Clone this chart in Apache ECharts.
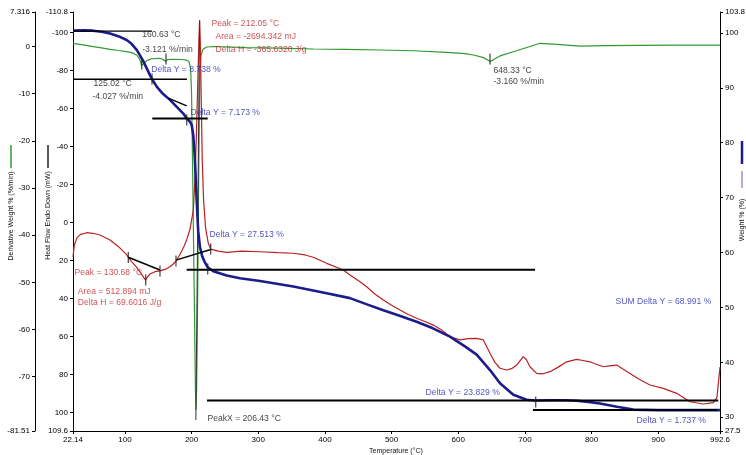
<!DOCTYPE html>
<html><head><meta charset="utf-8">
<script src="https://cdn.jsdelivr.net/npm/echarts@6/dist/echarts.min.js"></script>
<style>html,body{margin:0;padding:0;background:#fff}#c{width:746px;height:455px}</style>
</head><body><div id="c"></div>
<script>
// ---- axis tick labels ----
const xTicks = [22.14,100,200,300,400,500,600,700,800,900,992.6];
const derivTicks = [7.316,0,-10,-20,-30,-40,-50,-60,-70,-81.51];
const heatTicks = [-110.8,-100,-80,-60,-40,-20,0,20,40,60,80,100,109.6];
const weightTicks = [103.8,100,90,80,70,60,50,40,30,27.5];

// ---- Weight % (blue) ----
const weightT = [22.14,40,52,65,77.6,90,102.7,110,117.7,127,137.6,140.6,147.7,157,167.6,177,187.6,192.7,197,200,202.4,204,205.5,207.6,210,212.6,216,220,224.2,232.6,252.7,272.6,302.6,352.6,402.7,437.6,462,487.6,512,537.6,562,587.6,610,627.6,647.6,662.6,682.6,702.6,716,737.6,760,777.6,795,812.6,838,862.6,900,950,992.6];
const weightPct = [100.4,100.45,100.4,100.2,99.9,99.4,98.7,98.0,96.9,95.0,92.3,91.6,90.2,88.9,87.8,86.6,85.3,84.4,83.9,83.3,81.5,79,75.6,69.6,63.8,61.0,59.3,58.2,57.3,56.6,55.8,55.3,54.8,53.8,52.6,51.7,50.6,49.5,48.5,47.4,46.2,44.7,42.9,41.4,38.6,36.2,34.1,33.2,33.05,33.1,33.1,33.0,32.8,32.5,31.9,31.4,31.3,31.3,31.3];

// ---- Heat flow (red) ----
const heatT = [22.14,24,28,33,42.6,52,62.6,77.6,90,102.6,105.1,110,117.7,124,128,131.2,134,137.6,145,152.6,160,167.6,172,176.6,183,188,192.6,197.6,202.6,205,207,209,211,212.05,213,214.5,216,218,221,225,228.7,240,252.6,275,302.6,330,352.6,370,382.6,402.7,427.6,437.6,452.6,462.6,475,487.6,500,512.6,525,537.6,550,562.6,575,587.6,602.6,615,627.6,637.6,647.6,655,662.6,672.6,680,687.6,697.6,702,707.6,717.6,727,737.6,750,762.6,777.6,787,797.6,807,817.6,827,837.6,847,857.6,872,887.6,907.6,927.6,947.6,967.6,982.6,988,992.6];
const heatFlow = [18,12,8,6.3,5.3,5.6,6.5,9.1,12.5,16.8,18.3,20.5,23.5,26.5,28.8,30.2,28.5,27.0,25.8,25.4,24.6,23.2,21.9,20.2,16.5,13.0,9.1,3.5,-6.6,-22.4,-43.5,-69.8,-96.1,-106.3,-96,-64.5,-33,-11.9,2.8,10.7,13.9,15.0,15.6,15.0,15.3,15.8,16.1,17.0,18.2,21.4,24.9,27.5,31.1,33.7,37.5,40.7,43.5,46.0,48.3,50.3,52.0,53.9,56.5,60.0,61.7,61.0,60.9,61.7,68.7,73.5,76.6,77.5,76.8,74.9,70.5,72.0,75.8,79.3,79.5,78.4,76.0,73.2,71.9,72.5,73.2,74.5,75.8,75.3,74.9,77.0,79.3,82.5,85.4,87.2,89.8,94.2,95.4,94.7,92,76];

// ---- Derivative weight (green) ----
const derivT = [22.14,35,52.6,65,77.6,90,102.6,110,117.7,122,125.02,128,133,140,152.6,157,160.63,164,172.6,185,192.6,196,198.5,200,201.5,203,204.5,205.7,206.43,207.5,208.5,209.5,210.5,211.5,212.5,214,217,222.7,235,283,330,382.6,430,482.6,532.6,582.6,610,622.6,637,648.33,655,662.6,682.6,707.6,722.6,742.6,782.6,820,870,930,992.6];
const derivVal = [0.68,0.4,-0.04,-0.3,-0.59,-0.85,-1.1,-1.3,-1.8,-2.6,-4.027,-3.7,-3.0,-2.6,-2.5,-2.7,-3.121,-2.8,-2.7,-2.75,-2.9,-3.2,-4.5,-10,-25,-42,-58,-72,-77.1,-73,-62,-46,-30,-16,-6,-2,-0.6,-0.1,0.0,-0.25,-0.35,-0.53,-0.6,-0.74,-0.9,-1.23,-1.5,-1.8,-2.3,-3.160,-2.6,-2.0,-1.1,0.0,0.68,0.5,0.1,0.2,0.25,0.3,0.3];

// ---- step levels (weight %) ----
const levelVal  = [100.3, 91.56, 84.39, 56.88, 33.05, 31.31];
const levelFrom = [22.14, 22.14, 141.1, 192.7, 223.1, 712];
const levelTo   = [140.6, 193.1, 224.2, 715.1, 990, 988];
const levelWidth= [1.2, 1.4, 2, 2, 2, 2];

// ---- markers ----
const weightMarks = [[140.64,91.6],[192.7,84.13],[224.2,57.0],[716.2,32.8]];
const heatMarks = [[105.1,18.3],[131.2,30.2],[152.6,25.4],[176.6,20.2],[228.7,13.9]];
const derivMarks = [[125.2,-3.71],[161.6,-2.65],[647.6,-2.65]];
const heatBaselines = [[[105.1,18.24],[152.6,24.9]], [[176.6,19.7],[228.7,14.1]]];
const weightTangent = [[165.1,88.1],[192.7,86.7]];
const peakLine = [[212.05,-106.5],[206.43,103.8]];

// ---- annotation texts (placed at T, weight %) ----
const blueNotes = [
  ['Delta Y = 8.738 %',138.7,93.24],
  ['Delta Y = 7.173 %',197.6,85.46],
  ['Delta Y = 27.513 %',226.1,63.19],
  ['Delta Y = 23.829 %',550.1,34.48],
  ['SUM Delta Y = 68.991 %',835.1,51.05],
  ['Delta Y = 1.737 %',866.6,29.32]
];
const redNotes = [
  ['Peak = 212.05 °C',229.1,101.61],
  ['Area = -2694.342 mJ',235.1,99.30],
  ['Delta H = -365.6320 J/g',235.1,96.88],
  ['Peak = 130.68 °C',23.6,56.33],
  ['Area = 512.894 mJ',28.6,52.87],
  ['Delta H = 69.6016 J/g',28.6,50.86]
];
const blackNotes = [
  ['160.63 °C',125.2,99.61],
  ['-3.121 %/min',125.2,97.0],
  ['125.02 °C',52.1,90.69],
  ['-4.027 %/min',50.6,88.38],
  ['648.33 °C',652.1,93.11],
  ['-3.160 %/min',652.1,91.11],
  ['PeakX = 206.43 °C',223.1,29.69]
];

const FONT = '"Liberation Sans", Arial, sans-serif';
const zip = (a,b) => a.map((v,i)=>[v,b[i]]);
const fmt = v => String(v);

function yAxisCfg(extra, ticks){
  return Object.assign({
    type:'value', scale:false,
    axisLine:{show:true, onZero:false, lineStyle:{color:'#000', width:1}},
    axisTick:{show:true, length:3, inside:false, customValues:ticks, lineStyle:{color:'#000'}},
    axisLabel:{show:true, customValues:ticks, formatter:fmt, fontSize:8, color:'#000', fontFamily:FONT, margin:5},
    splitLine:{show:false}
  }, extra);
}

const series = [
  {type:'line', name:'Derivative', yAxisIndex:1, data:zip(derivT,derivVal), symbol:'none', lineStyle:{color:'#2f9a2f', width:1.2}, z:2},
  {type:'line', name:'HeatFlow', yAxisIndex:0, data:zip(heatT,heatFlow), symbol:'none', lineStyle:{color:'#b8211f', width:1.2}, z:3},
  {type:'line', name:'Weight', yAxisIndex:2, data:zip(weightT,weightPct), symbol:'none', lineStyle:{color:'#1c1c8c', width:2.6}, z:4}
];
levelVal.forEach((v,i)=>{
  series.push({type:'line', yAxisIndex:2, data:[[levelFrom[i],v],[levelTo[i],v]], symbol:'none', lineStyle:{color:'#000', width:levelWidth[i]}, z:5});
});
heatBaselines.forEach(seg=>{
  series.push({type:'line', yAxisIndex:0, data:seg, symbol:'none', lineStyle:{color:'#000', width:1.5}, z:5});
});
series.push({type:'line', yAxisIndex:2, data:weightTangent, symbol:'none', lineStyle:{color:'#000', width:1.3}, z:5});
series.push({type:'line', yAxisIndex:0, data:peakLine, symbol:'none', lineStyle:{color:'#333', width:1}, z:3});

const tickStyle = {type:'scatter', symbol:'rect', symbolSize:[1.3,11], itemStyle:{color:'#222'}, z:6};
series.push(Object.assign({yAxisIndex:2, data:weightMarks}, tickStyle));
series.push(Object.assign({yAxisIndex:0, data:heatMarks}, tickStyle));
series.push(Object.assign({yAxisIndex:1, data:derivMarks}, tickStyle));

function noteSeries(list, color){
  return {type:'scatter', yAxisIndex:2, symbolSize:1, itemStyle:{color:'rgba(0,0,0,0)'}, z:8,
    data:list.map(n=>({name:n[0], value:[n[1],n[2]]})),
    label:{show:true, position:'right', distance:0, formatter:'{b}', color:color, fontSize:8.6, fontFamily:FONT}};
}
series.push(noteSeries(blueNotes,'#2a2ab4'));
series.push(noteSeries(redNotes,'#c0282d'));
series.push(noteSeries(blackNotes,'#111'));

const chart = echarts.init(document.getElementById('c'), null, {renderer:'canvas'});
chart.setOption({
  animation:false,
  backgroundColor:'#fff',
  grid:{left:73, right:26, top:12, bottom:24, containLabel:false, outerBoundsMode:'none'},
  xAxis:{type:'value', min:22.14, max:992.6,
    axisLine:{show:true, onZero:false, lineStyle:{color:'#000'}},
    axisTick:{show:true, length:3, customValues:xTicks, lineStyle:{color:'#000'}},
    axisLabel:{customValues:xTicks, formatter:fmt, fontSize:8, color:'#000', fontFamily:FONT, margin:5},
    splitLine:{show:false}},
  yAxis:[
    yAxisCfg({position:'left', offset:0, inverse:true, min:-110.8, max:109.6}, heatTicks),
    yAxisCfg({position:'left', offset:38, min:-81.51, max:7.316}, derivTicks),
    yAxisCfg({position:'right', offset:0, min:27.5, max:103.8}, weightTicks)
  ],
  series: series,
  graphic:[
    {type:'line', shape:{x1:11,y1:145,x2:11,y2:168}, style:{stroke:'#2f9a2f', lineWidth:1.5}},
    {type:'text', x:11, y:216, rotation:Math.PI/2, style:{text:'Derivative Weight % (%/min)', fontSize:7, fontFamily:FONT, fill:'#111', align:'center', verticalAlign:'middle'}},
    {type:'line', shape:{x1:48,y1:145,x2:48,y2:168}, style:{stroke:'#222', lineWidth:1.5}},
    {type:'text', x:48, y:215.5, rotation:Math.PI/2, style:{text:'Heat Flow Endo Down (mW)', fontSize:7, fontFamily:FONT, fill:'#111', align:'center', verticalAlign:'middle'}},
    {type:'line', shape:{x1:742,y1:141,x2:742,y2:164}, style:{stroke:'#1c1c8c', lineWidth:2.5}},
    {type:'line', shape:{x1:742,y1:171,x2:742,y2:188}, style:{stroke:'#5a64a8', lineWidth:1}},
    {type:'text', x:742, y:220, rotation:Math.PI/2, style:{text:'Weight % (%)', fontSize:7, fontFamily:FONT, fill:'#111', align:'center', verticalAlign:'middle'}},
    {type:'text', x:396, y:451, style:{text:'Temperature (°C)', fontSize:7, fontFamily:FONT, fill:'#111', align:'center', verticalAlign:'middle'}}
  ]
});
</script></body></html>
